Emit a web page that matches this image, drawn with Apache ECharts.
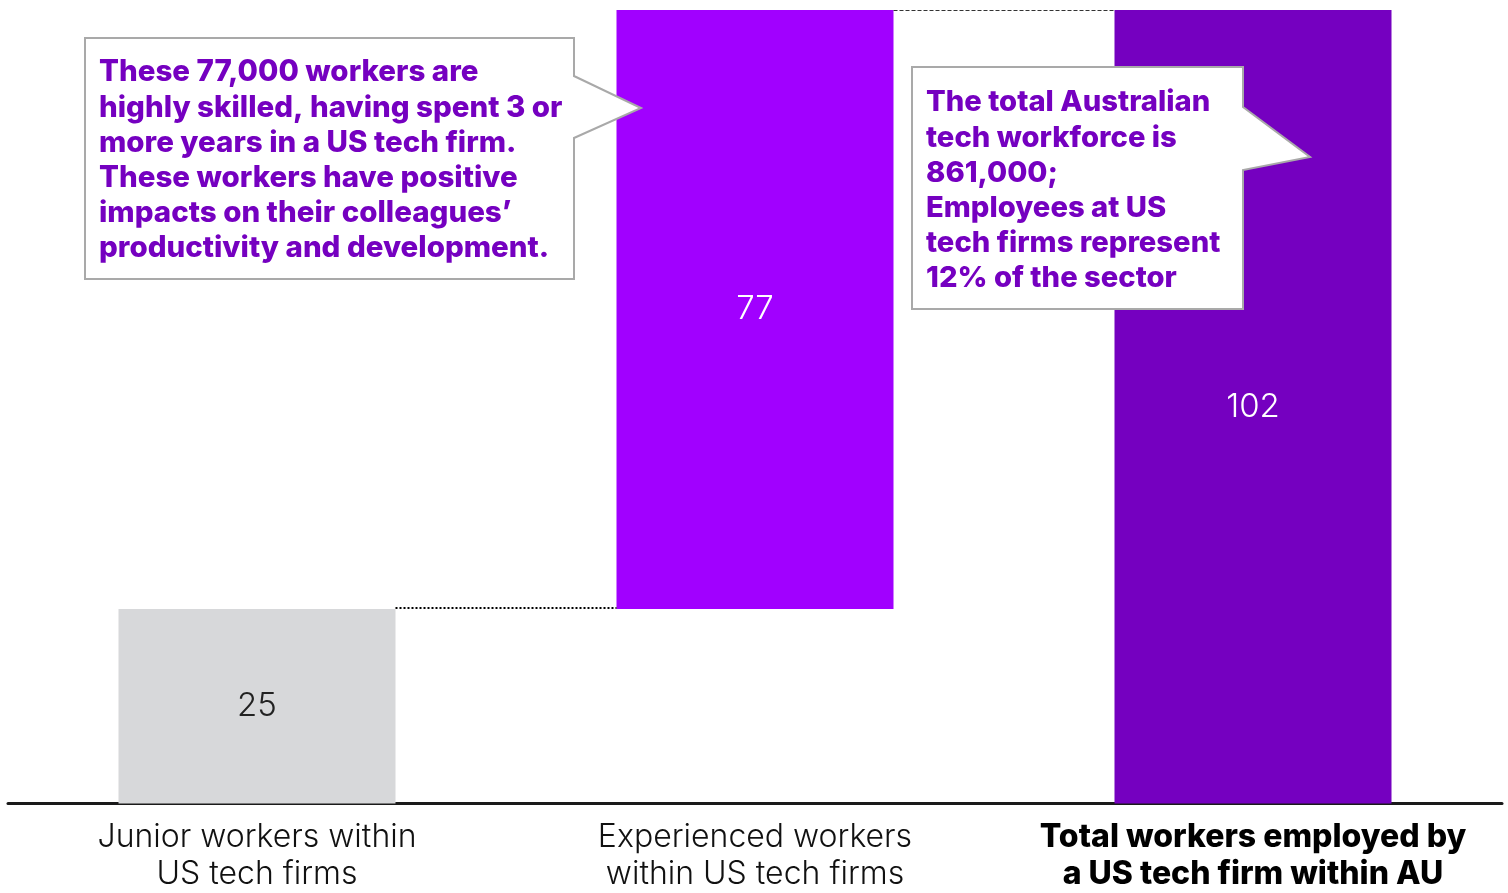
<!DOCTYPE html>
<html>
<head>
<meta charset="utf-8">
<script src="https://cdn.jsdelivr.net/npm/echarts@6/dist/echarts.min.js"></script>
<style>
  html, body { margin: 0; padding: 0; background: #fff; }
  #chart { width: 1508px; height: 893px; }
</style>
</head>
<body>
<div id="chart"></div>
<script>
// Workers (thousands) at US tech firms in Australia
const categories = [
  'Junior workers within\nUS tech firms',
  'Experienced workers\nwithin US tech firms',
  'Total workers employed by\na US tech firm within AU'
];
const stepValues = [25, 77, 102];       // height of each visible bar
const baseValues = [0, 25, 0];          // invisible offset for the waterfall step
const barColors = ['#d7d8da', '#a100ff', '#7500c0'];
const labelColors = ['#222222', '#ffffff', '#ffffff'];

const noteLeft = [
  'These 77,000 workers are',
  'highly skilled, having spent 3 or',
  'more years in a US tech firm.',
  'These workers have positive',
  'impacts on their colleagues\u2019',
  'productivity and development.'
];
const noteRight = [
  'The total Australian',
  'tech workforce is',
  '861,000;',
  'Employees at US',
  'tech firms represent',
  '12% of the sector'
];

const chart = echarts.init(document.getElementById('chart'), null, { renderer: 'canvas' });

const BAR_W = 277;

const option = {
  animation: false,
  grid: { left: 8, right: 6, top: 10, bottom: 87, containLabel: false },
  xAxis: {
    type: 'category',
    data: categories,
    offset: 1.5,
    axisLine: { show: true, lineStyle: { color: '#1a1a1a', width: 3 } },
    axisTick: { show: false },
    axisLabel: {
      interval: 0,
      margin: 14,
      fontFamily: 'Inter',
      fontSize: 32,
      fontWeight: 300,
      color: '#111',
      lineHeight: 37,
      formatter: function (v, i) {
        return i === 2 ? '{b|' + v.split('\n').join('}\n{b|') + '}' : v;
      },
      rich: {
        b: { fontFamily: 'Inter', fontSize: 32, fontWeight: 800, color: '#000', lineHeight: 37 }
      }
    }
  },
  yAxis: {
    type: 'value',
    min: 0,
    max: 102,
    show: false,
    splitLine: { show: false }
  },
  series: [
    {
      name: 'base',
      type: 'bar',
      stack: 'wf',
      barWidth: BAR_W,
      itemStyle: { color: 'transparent' },
      emphasis: { disabled: true },
      silent: true,
      data: baseValues
    },
    {
      name: 'workers',
      type: 'bar',
      stack: 'wf',
      barWidth: BAR_W,
      data: stepValues.map((v, i) => ({
        value: v,
        itemStyle: { color: barColors[i] },
        label: { color: labelColors[i] }
      })),
      label: {
        show: true,
        position: 'inside',
        fontFamily: 'Inter',
        fontWeight: 300,
        fontSize: 33
      }
    }
  ]
};

chart.setOption(option);

// Connectors between the bars and the two callouts
function connectors() {
  const g = [];
  const half = BAR_W / 2;
  // dotted step from the junior bar top to the experienced bar bottom
  const p0 = chart.convertToPixel({ gridIndex: 0 }, [0, baseValues[1]]);
  const p1 = chart.convertToPixel({ gridIndex: 0 }, [1, baseValues[1]]);
  g.push({
    type: 'line', z: 10,
    shape: { x1: p0[0] + half, y1: p0[1] - 1, x2: p1[0] - half, y2: p1[1] - 1 },
    style: { stroke: '#000', lineWidth: 2, lineDash: [2, 2] }
  });
  // dashed step from the experienced bar top to the total bar top
  const top = baseValues[1] + stepValues[1];
  const q1 = chart.convertToPixel({ gridIndex: 0 }, [1, top]);
  const q2 = chart.convertToPixel({ gridIndex: 0 }, [2, top]);
  g.push({
    type: 'line', z: 10,
    shape: { x1: q1[0] + half, y1: q1[1] + 0.5, x2: q2[0] - half, y2: q2[1] + 0.5 },
    style: { stroke: '#333', lineWidth: 1, lineDash: [4, 2] }
  });

  // callout boxes with pointers
  g.push({
    type: 'polygon', z: 20,
    shape: { points: [[85, 38], [574, 38], [574, 76], [641, 108], [574, 138], [574, 279], [85, 279]] },
    style: { fill: '#fff', stroke: '#a9a9a9', lineWidth: 2 }
  });
  g.push({
    type: 'text', z: 21, left: 99, top: 55,
    style: {
      text: noteLeft.join('\n'),
      font: '800 29.5px Inter',
      fill: '#7500c0',
      lineHeight: 35.2
    }
  });
  g.push({
    type: 'polygon', z: 20,
    shape: { points: [[912, 67], [1243, 67], [1243, 107], [1310, 157], [1243, 170], [1243, 309], [912, 309]] },
    style: { fill: '#fff', stroke: '#a9a9a9', lineWidth: 2 }
  });
  g.push({
    type: 'text', z: 21, left: 926, top: 85,
    style: {
      text: noteRight.join('\n'),
      font: '800 29.2px Inter',
      fill: '#7500c0',
      lineHeight: 35.2
    }
  });
  chart.setOption({ graphic: g });
}
connectors();
</script>
</body>
</html>
